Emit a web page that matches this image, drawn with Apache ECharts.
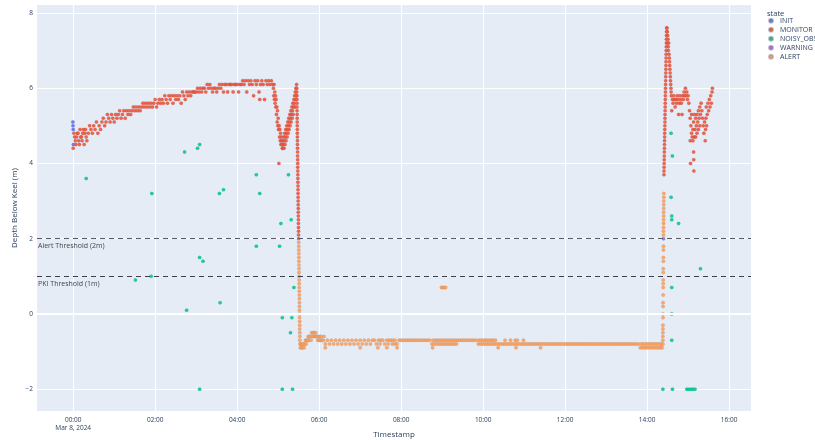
<!DOCTYPE html>
<html>
<head>
<meta charset="utf-8">
<script src="https://cdn.jsdelivr.net/npm/echarts@6/dist/echarts.min.js"></script>
<style>html,body{margin:0;padding:0;background:#fff}#c{width:815px;height:440px}</style>
</head>
<body>
<div id="c"></div>
<script>
// ---- data: [minutes since 2024-03-08 00:00, depth below keel (m)] ----
const STATES = ['INIT', 'MONITOR', 'NOISY_OBS', 'WARNING', 'ALERT'];
const X_TITLE = 'Timestamp';
const Y_TITLE = 'Depth Below Keel (m)';
const DATE_LABEL = 'Mar 8, 2024';
const X_TICKS_MIN = [0, 120, 240, 360, 480, 600, 720, 840, 960];
const Y_TICKS = [-2, 0, 2, 4, 6, 8];
const THRESHOLDS = [2, 1];
const THRESHOLD_LABELS = ['Alert Threshold (2m)', 'PKI Threshold (1m)'];

const INIT_PTS = [[-0.5,5.1],[-0.3,5.0],[0,4.9],[0.3,4.5]];

const MONITOR_PTS = [
[0,4.4],[1,4.8],[2,4.7],[3,4.6],[4,4.5],[5,4.7],[6,4.8],[7,4.8],[8,4.6],[9,4.5],[10,4.9],[11,4.7],[12,4.7],[13,4.6],[14,4.8],[15,4.9],[16,4.5],[17,4.8],[18,4.9],[19,4.7],
[20,4.6],[22,4.8],[24,5.0],[26,4.9],[28,4.8],[30,5.0],[32,4.9],[34,5.1],[36,4.8],[38,5.0],[40,4.9],[42,5.1],[44,5.2],[46,5.0],[48,5.1],
[50,5.3],[52,5.2],[54,5.1],[56,5.3],[58,5.2],[60,5.1],[62,5.3],[64,5.2],[66,5.3],[68,5.4],[70,5.2],[72,5.3],[74,5.4],[76,5.2],[78,5.4],
[80,5.3],[82,5.4],[84,5.3],[86,5.4],[88,5.5],[90,5.4],[92,5.5],[94,5.4],[96,5.5],[98,5.4],[100,5.5],[102,5.6],[104,5.5],[106,5.6],[108,5.5],
[110,5.6],[112,5.5],[114,5.6],[116,5.5],[118,5.6],[120,5.7],[122,5.5],[124,5.6],[126,5.7],[128,5.6],[130,5.7],[132,5.6],[134,5.8],[136,5.7],[138,5.6],
[140,5.8],[142,5.7],[144,5.8],[146,5.6],[148,5.8],[150,5.7],[152,5.8],[154,5.7],[156,5.8],[158,5.6],[160,5.9],[162,5.8],[164,5.7],[166,5.9],[168,5.8],
[170,5.9],[172,5.8],[174,5.9],[176,5.9],[178,5.9],[180,5.9],[182,6.0],[184,5.9],[186,6.0],[188,5.9],[190,6.0],[192,6.0],[194,5.9],[196,6.1],[198,6.0],
[200,6.1],[202,6.0],[204,5.9],[206,6.0],[208,6.0],[210,5.9],[212,6.0],[214,6.1],[216,6.0],[218,6.1],[220,5.9],[222,6.1],[224,6.1],[226,5.9],[228,6.1],
[230,6.1],[232,6.1],[234,5.9],[236,6.1],[238,6.1],[240,6.1],[242,5.9],[244,6.1],[246,6.1],[248,6.2],[250,6.1],[252,6.2],[254,5.9],[256,6.2],[258,6.1],
[260,6.2],[262,6.1],[264,5.8],[266,6.2],[268,6.1],[270,6.2],[272,5.9],[273,5.7],[274,6.1],[276,6.2],[278,6.1],[280,5.7],[282,6.2],[284,6.1],[286,6.2],[288,6.1],[290,6.2],[292,6.1],
[293,6.0],[293.5,5.8],[294,6.1],[294.5,5.7],[295,5.9],[295.5,5.6],[296,5.8],[296.5,5.5],[297,5.7],[297.5,5.3],[298,5.5],[298.5,5.1],[299,5.4],[299.5,5.0],[300,5.2],[300.5,4.9],[301,4.0],[301.5,5.0],
[302,4.7],[302.5,4.9],[303,4.6],[303.5,4.8],[304,4.5],[304.5,4.7],[305,4.6],[305.5,4.5],[306,4.4],[306.5,4.6],[307,4.4],[307.5,4.5],[308,4.7],[308.5,4.4],[309,4.6],[309.5,4.8],[310,4.5],[310.5,4.7],
[311,4.9],[311.5,4.6],[312,4.8],[312.5,5.0],[313,4.7],[313.5,4.9],[314,5.1],[314.5,4.8],[315,5.0],[315.5,5.2],[316,4.9],[316.5,5.1],[317,5.3],[317.5,5.0],[318,5.2],[318.5,5.4],[319,5.1],[319.5,5.3],
[320,5.5],[320.5,5.2],[321,5.4],[321.5,5.6],[322,5.3],[322.5,5.5],[323,5.7],[323.5,5.6],[324,5.8],[324.5,5.5],[325,5.9],[325.5,5.7],[326,6.0],[326.5,5.8],[327,6.1],
[327.1,6.0],[327.2,5.9],[327.3,5.8],[327.4,5.7],[327.5,5.6],[327.5,5.5],[327.6,5.4],[327.7,5.3],[327.8,5.2],[327.8,5.1],[327.9,5.0],[328.0,4.9],[328.0,4.8],[328.1,4.7],[328.2,4.6],[328.2,4.5],
[328.3,4.4],[328.4,4.3],[328.4,4.2],[328.5,4.1],[328.6,4.0],[328.6,3.9],[328.7,3.8],[328.8,3.7],[328.8,3.6],[328.9,3.5],[329.0,3.4],[329.0,3.3],[329.1,3.2],[329.2,3.1],[329.2,3.0],[329.3,2.9],
[329.4,2.8],[329.4,2.7],[329.5,2.6],[329.6,2.5],[329.6,2.4],[329.7,2.3],[329.8,2.2],[329.8,2.1],
[864.6,3.7],[864.7,3.8],[864.8,3.9],[864.9,4.0],[865.0,4.1],[865.1,4.2],[865.2,4.3],[865.3,4.4],[865.4,4.5],[865.5,4.6],[865.6,4.7],[865.7,4.8],[865.8,4.9],[865.9,5.0],[866.0,5.1],[866.1,5.2],
[866.2,5.3],[866.3,5.4],[866.4,5.5],[866.5,5.6],[866.6,5.7],[866.7,5.8],[866.8,5.9],[866.9,6.0],[867.0,6.1],[867.1,6.2],[867.2,6.3],[867.3,6.4],[867.4,6.5],[867.5,6.6],[867.6,6.7],[867.7,6.8],
[867.8,6.9],[867.9,7.0],[868.0,7.1],[868.1,7.2],[868.2,7.3],[868.3,7.4],[868.4,7.5],[868.6,7.6],
[869,7.6],[869.5,7.5],[870,7.4],[870,7.2],[870.5,7.3],[871,7.1],[871,7.0],[871.5,7.2],[872,6.9],[872.5,6.8],[872.8,6.7],[873,6.6],[873.3,6.5],[873.6,6.4],[873.9,6.3],[874.2,6.2],[874.5,6.1],[874.8,6.0],[875.1,5.9],[875.4,5.8],
[876,5.4],[877,5.7],[878,5.6],[879,5.8],[880,5.7],[881,5.5],[882,5.7],[883,5.6],[884,5.8],[885,5.7],[886,5.3],[887,5.6],[888,5.8],[889,5.7],[890,5.6],[891,5.3],[892,5.8],[893,5.7],[894,5.9],[895,5.8],
[896,6.0],[897,5.8],[898,5.9],[899,5.7],[900,5.8],[901,5.6],
[902,5.4],[903,5.2],[903,4.6],[903.5,4.0],[904,5.0],[905,4.8],[905,5.3],[906,4.7],[907,4.9],[907,4.6],[908,5.1],[908,4.3],[908.2,4.1],[908.4,3.8],[909,4.7],[909,5.3],[910,4.9],[911,5.2],[911,4.7],
[912,5.0],[913,5.3],[913,4.8],[914,5.1],[915,5.4],[915,4.9],[916,5.2],[917,5.5],[917,5.0],[918,5.3],[919,5.6],[920,5.4],[921,5.2],[922,5.0],[923,4.8],[924,5.1],[925,4.6],[925.5,4.9],[926,5.2],[926.5,5.5],
[927,5.0],[928,5.3],[929,5.6],[930,5.4],[931,5.7],[932,5.5],[933,5.8],[934,5.6],[935,5.9],[935.5,6.0]
];

const NOISY_PTS = [
[19,3.6],[91,0.9],[114,1.0],[115,3.2],[163,4.3],[166,0.1],[182,4.4],[185,4.5],[185,1.5],[185,-2.0],[190,1.4],[214,3.2],[215,0.3],[220,3.3],
[268,3.7],[268,1.8],[273,3.2],[302,1.8],[304,2.4],[306,-0.1],[306,-2.0],[315,3.7],[318,-0.5],[319,2.5],[320,-0.1],[321,-2.0],[323,0.7],
[863,-2.0],[875,4.8],[875,3.1],[876,2.6],[876,2.5],[876,0.7],[876,0.0],[876,-0.7],[877,4.2],[877,-2.0],[886,2.4],[898,-2.0],[901,-2.0],[904,-2.0],[907,-2.0],[910,-2.0],[918,1.2]
];

const WARNING_PTS = [[329.9,2.0],[863.9,2.0]];

const ALERT_PTS = [
[330.0,1.9],[330.1,1.8],[330.1,1.7],[330.2,1.6],[330.3,1.5],[330.3,1.4],[330.4,1.3],[330.5,1.2],[330.5,1.1],[330.6,1.0],[330.7,0.9],[330.7,0.8],[330.8,0.7],[330.9,0.6],
[330.9,0.5],[331.0,0.4],[331.1,0.3],[331.1,0.2],[331.2,0.1],[331.3,0.0],[331.3,-0.1],[331.4,-0.2],[331.5,-0.3],[331.5,-0.4],[331.6,-0.5],[331.7,-0.6],[331.7,-0.7],
[332,-0.8],[332.5,-0.9],[333,-0.8],[334,-0.9],[335,-0.8],[336,-0.9],[337,-0.8],[338,-0.9],[339,-0.8],[340,-0.7],[341,-0.8],[342,-0.7],[343,-0.7],[344,-0.6],[345,-0.7],[346,-0.6],
[347,-0.6],[348,-0.7],[349,-0.5],[350,-0.6],[351,-0.5],[352,-0.6],[353,-0.5],[354,-0.6],[355,-0.5],[356,-0.6],[357,-0.6],[358,-0.7],[359,-0.6],[360,-0.7],[361,-0.6],[362,-0.7],
[363,-0.6],[364,-0.7],[366,-0.7],[367,-0.6],
[369,-0.8],[369,-0.9],[372,-0.7],[375,-0.8],[378,-0.7],[381,-0.8],[384,-0.7],[387,-0.8],[390,-0.7],[393,-0.8],[396,-0.7],[399,-0.8],[402,-0.7],[405,-0.8],[408,-0.7],[411,-0.8],
[414,-0.7],[417,-0.8],[420,-0.9],[420,-0.7],[423,-0.8],[426,-0.7],[429,-0.8],[432,-0.7],[435,-0.8],[438,-0.7],[441,-0.7],[444,-0.8],[446,-0.9],[447,-0.7],[449,-0.8],[450,-0.7],
[453,-0.7],[456,-0.8],[459,-0.9],[459,-0.7],[461,-0.8],[462,-0.7],[465,-0.7],[467,-0.8],[468,-0.7],[471,-0.8],[471,-0.7],[474,-0.9],[474,-0.8],[477,-0.7],[480,-0.7],[483,-0.7],
[486,-0.7],[489,-0.7],[492,-0.7],[495,-0.7],[498,-0.7],[501,-0.7],[504,-0.7],[507,-0.7],[510,-0.7],[513,-0.7],[516,-0.7],[519,-0.7],[522,-0.7],[525,-0.8],[526,-0.9],[527,-0.7],
[528,-0.8],[530,-0.7],[531,-0.8],[533,-0.7],[534,-0.8],[536,-0.7],[537,-0.8],[539,-0.7],[540,-0.8],[542,-0.7],[543,-0.8],[545,-0.7],[546,-0.8],[548,-0.7],[549,-0.8],[551,-0.7],
[552,-0.8],[554,-0.7],[555,-0.8],[557,-0.7],[558,-0.8],[560,-0.7],[561,-0.8],[563,-0.7],[566,-0.7],[569,-0.7],[572,-0.7],[575,-0.7],[578,-0.7],[581,-0.7],[584,-0.7],[587,-0.7],
[590,-0.7],[593,-0.8],[594,-0.7],[596,-0.8],[597,-0.7],[599,-0.8],[600,-0.7],[602,-0.8],[603,-0.7],[605,-0.8],[606,-0.7],[608,-0.8],[609,-0.7],[611,-0.8],[612,-0.7],[614,-0.8],
[615,-0.7],[617,-0.8],[618,-0.7],[620,-0.8],[622,-0.9],[623,-0.8],[626,-0.8],[629,-0.8],[632,-0.7],[632,-0.8],[635,-0.8],[638,-0.8],[640,-0.7],[641,-0.8],[644,-0.8],[647,-0.7],
[647,-0.8],[648,-0.9],[650,-0.7],[650,-0.8],[653,-0.8],[656,-0.8],[659,-0.7],[659,-0.8],[662,-0.8],[665,-0.8],[668,-0.8],[671,-0.8],[674,-0.8],[677,-0.8],[680,-0.8],[683,-0.8],
[684,-0.9],[686,-0.8],[689,-0.8],[692,-0.8],[695,-0.8],[698,-0.8],[701,-0.8],[704,-0.8],[707,-0.8],[710,-0.8],[713,-0.8],[716,-0.8],[719,-0.8],[722,-0.8],[725,-0.8],[728,-0.8],
[731,-0.8],[734,-0.8],[737,-0.8],[740,-0.8],[743,-0.8],[746,-0.8],[749,-0.8],[752,-0.8],[755,-0.8],[758,-0.8],[761,-0.8],[764,-0.8],[767,-0.8],[770,-0.8],[773,-0.8],[776,-0.8],
[779,-0.8],[782,-0.8],[785,-0.8],[788,-0.8],[791,-0.8],[794,-0.8],[797,-0.8],[800,-0.8],[803,-0.8],[806,-0.8],[809,-0.8],[812,-0.8],[815,-0.8],[818,-0.8],[821,-0.8],[824,-0.8],
[827,-0.8],[830,-0.9],[831,-0.8],[833,-0.9],[834,-0.8],[836,-0.9],[837,-0.8],[839,-0.9],[840,-0.8],[842,-0.9],[843,-0.8],[845,-0.9],[846,-0.8],[848,-0.9],[849,-0.8],[851,-0.9],
[852,-0.8],[854,-0.9],[855,-0.8],[857,-0.9],[858,-0.8],[860,-0.9],[861,-0.8],[862,-0.9],[863,-0.8],
[539,0.7],[541,0.7],[543,0.7],[545,0.7],
[863.0,-0.7],[863.0,-0.6],[863.1,-0.5],[863.1,-0.4],[863.1,-0.3],[863.2,-0.1],[863.2,0.0],[863.3,0.2],[863.3,0.3],[863.4,0.5],[863.4,0.7],[863.5,0.8],[863.5,0.9],[863.6,1.1],
[863.6,1.2],[863.7,1.4],[863.7,1.5],[863.8,1.7],[863.8,1.8],[863.9,2.1],[863.9,2.2],[864.0,2.3],[864.0,2.4],[864.1,2.5],[864.1,2.6],[864.2,2.7],[864.2,2.8],[864.3,2.9],
[864.3,3.0],[864.4,3.1],[864.4,3.2]
];

// ---- styles ----
const COLORS = { INIT: '#636efa', MONITOR: '#EF553B', NOISY_OBS: '#00cc96', WARNING: '#ab63fa', ALERT: '#FFA15A' };
const FONT = '"Open Sans", "DejaVu Sans", sans-serif';
const TXT = '#2a3f5f';
const SERIES_PTS = { INIT: INIT_PTS, MONITOR: MONITOR_PTS, NOISY_OBS: NOISY_PTS, WARNING: WARNING_PTS, ALERT: ALERT_PTS };

const pad = n => (n < 10 ? '0' : '') + n;
const fmtMin = m => {
  const h = Math.floor(m / 60), mm = Math.round(m - h * 60);
  const s = pad(h) + ':' + pad(mm);
  return m === 0 ? s + '\n' + DATE_LABEL : s;
};

const chart = echarts.init(document.getElementById('c'), null, { renderer: 'canvas' });

const series = STATES.map(s => ({
  name: s,
  type: 'scatter',
  symbol: 'circle',
  symbolSize: 3.5,
  data: SERIES_PTS[s],
  itemStyle: { color: COLORS[s], borderColor: 'rgba(70,70,90,0.35)', borderWidth: 0.3, opacity: 0.9 },
  emphasis: { disabled: true },
  z: 3
}));

series.push({
  name: 'lines',
  type: 'scatter',
  data: [],
  silent: true,
  z: 2,
  markLine: {
    silent: true,
    symbol: 'none',
    animation: false,
    data: [
      { yAxis: 0, lineStyle: { color: '#ffffff', width: 2, type: 'solid' }, label: { show: false } },
      { yAxis: THRESHOLDS[0], lineStyle: { color: '#555b66', width: 1.2, type: [5, 4] },
        label: { show: true, position: 'insideStartBottom', formatter: THRESHOLD_LABELS[0], color: '#444', fontSize: 7, fontFamily: FONT, distance: [1, 4] } },
      { yAxis: THRESHOLDS[1], lineStyle: { color: '#3a3f4a', width: 1.2, type: [5, 4] },
        label: { show: true, position: 'insideStartBottom', formatter: THRESHOLD_LABELS[1], color: '#444', fontSize: 7, fontFamily: FONT, distance: [1, 4] } }
    ]
  }
});

chart.setOption({
  animation: false,
  backgroundColor: '#ffffff',
  textStyle: { fontFamily: FONT },
  title: { text: 'state', left: 762, top: 5, textStyle: { fontSize: 7.5, fontWeight: 'normal', color: TXT, fontFamily: FONT } },
  legend: {
    data: STATES,
    orient: 'vertical',
    left: 768,
    top: 17,
    icon: 'circle',
    itemWidth: 4,
    itemHeight: 4,
    itemGap: 1.5,
    padding: 0,
    textStyle: { fontSize: 7, color: TXT, fontFamily: FONT, padding: [0, 0, 0, 2], lineHeight: 7.5 }
  },
  grid: { left: 37, right: 64, top: 5, bottom: 29, outerBoundsMode: 'none', containLabel: false, show: true, backgroundColor: '#E5ECF6', borderWidth: 0 },
  xAxis: {
    type: 'value',
    min: -53,
    max: 992,
    name: X_TITLE,
    nameLocation: 'middle',
    nameGap: 20,
    nameMoveOverlap: false,
    nameTextStyle: { fontSize: 8, color: TXT, fontFamily: FONT },
    axisLine: { show: false },
    axisTick: { show: false, customValues: X_TICKS_MIN },
    splitLine: { show: true, lineStyle: { color: '#ffffff', width: 1 } },
    axisLabel: {
      customValues: X_TICKS_MIN,
      fontSize: 6.5, color: TXT, fontFamily: FONT, margin: 5, lineHeight: 8,
      formatter: v => fmtMin(v)
    }
  },
  yAxis: {
    type: 'value',
    min: -2.58,
    max: 8.21,
    name: Y_TITLE,
    nameLocation: 'middle',
    nameGap: 18,
    nameMoveOverlap: false,
    nameTextStyle: { fontSize: 8, color: TXT, fontFamily: FONT },
    axisLine: { show: false },
    axisTick: { show: false, customValues: Y_TICKS },
    splitLine: { show: true, lineStyle: { color: '#ffffff', width: 1 } },
    axisLabel: {
      customValues: Y_TICKS,
      fontSize: 6.5, color: TXT, fontFamily: FONT, margin: 4,
      formatter: v => (v < 0 ? '\u2212' + Math.abs(v) : String(v))
    }
  },
  series: series
});
</script>
</body>
</html>
